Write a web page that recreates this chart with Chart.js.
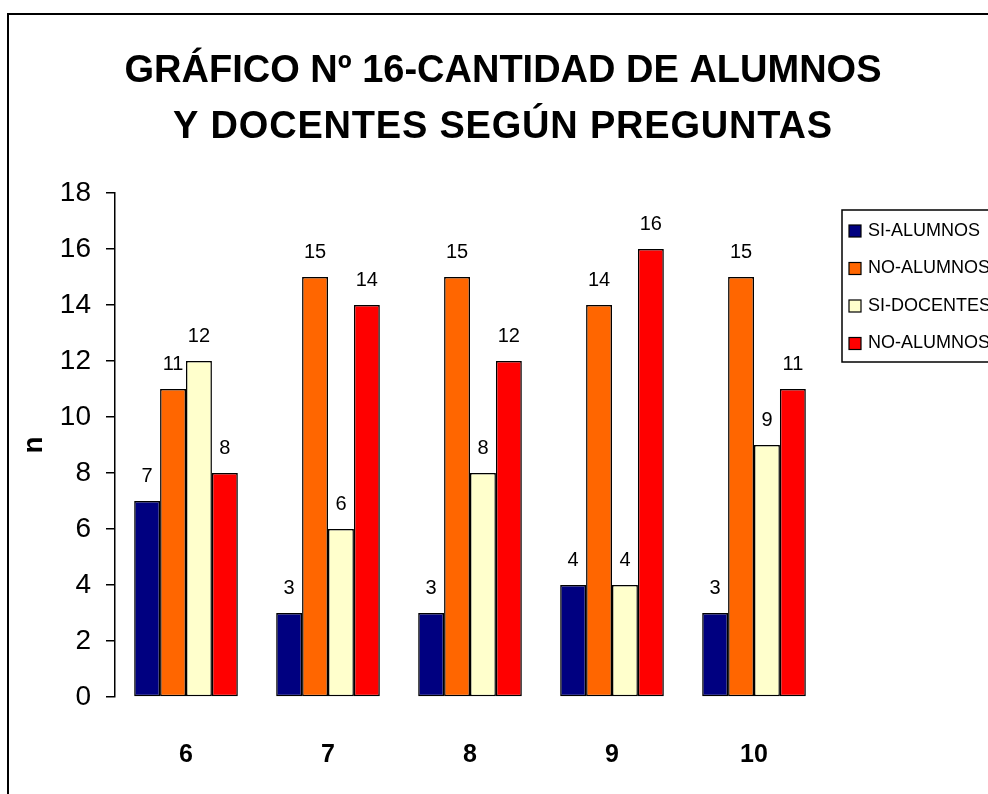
<!DOCTYPE html>
<html>
<head>
<meta charset="utf-8">
<script src="https://cdn.jsdelivr.net/npm/chart.js@4.4.1/dist/chart.umd.min.js"></script>
<style>
  html, body { margin: 0; padding: 0; background: #fff; overflow: hidden; }
  #wrap { position: relative; width: 988px; height: 794px; overflow: hidden; }
  #frame { position: absolute; left: 7px; top: 13px; width: 1200px; height: 1200px;
           border-left: 2px solid #000; border-top: 2px solid #000; }
  canvas { position: absolute; left: 0; top: 0; }
</style>
</head>
<body>
<div id="wrap">
  <div id="frame"></div>
  <canvas id="chart" width="988" height="794"></canvas>
</div>
<script>
const categories = ["6", "7", "8", "9", "10"];
const siAlumnos = [7, 3, 3, 4, 3];
const noAlumnos = [11, 15, 15, 14, 15];
const siDocentes = [12, 6, 8, 4, 9];
const noDocentes = [8, 14, 12, 16, 11];
const seriesNames = ["SI-ALUMNOS", "NO-ALUMNOS", "SI-DOCENTES", "NO-ALUMNOS"];
const seriesColors = ["#000080", "#FF6600", "#FFFFCC", "#FF0000"];
const titleLines = ["GRÁFICO Nº 16-CANTIDAD DE ALUMNOS", "Y DOCENTES SEGÚN PREGUNTAS"];
const yTitle = "n";

const FONT = "'Liberation Sans', Arial, sans-serif";

// title drawn by hand so it stays centred on the whole frame
const frameTitle = {
  id: "frameTitle",
  afterDraw(chart) {
    const ctx = chart.ctx;
    ctx.save();
    ctx.font = "bold 38px " + FONT;
    ctx.fillStyle = "#000";
    ctx.textAlign = "center";
    ctx.textBaseline = "alphabetic";
    ctx.fillText(titleLines[0], 503, 82);
    ctx.letterSpacing = "0.8px";
    ctx.fillText(titleLines[1], 503, 138);
    ctx.restore();
  }
};

const barValues = {
  id: "barValues",
  afterDatasetsDraw(chart) {
    const ctx = chart.ctx;
    ctx.save();
    ctx.font = "20px " + FONT;
    ctx.fillStyle = "#000";
    ctx.textAlign = "center";
    ctx.textBaseline = "middle";
    chart.data.datasets.forEach((ds, i) => {
      chart.getDatasetMeta(i).data.forEach((bar, j) => {
        ctx.fillText(ds.data[j], bar.x, bar.y - 25);
      });
    });
    ctx.restore();
  }
};

const boxLegend = {
  id: "boxLegend",
  afterDraw(chart) {
    const ctx = chart.ctx;
    const x = chart.chartArea.right + 17;
    const y = 210;
    ctx.save();
    ctx.lineWidth = 1.5;
    ctx.strokeStyle = "#000";
    ctx.strokeRect(x, y, 400, 152);
    ctx.font = "18px " + FONT;
    ctx.textBaseline = "middle";
    chart.data.datasets.forEach((ds, i) => {
      const cy = y + 21 + i * 37.5;
      ctx.fillStyle = ds.backgroundColor;
      ctx.fillRect(x + 7, cy - 6, 12, 12);
      ctx.lineWidth = 1.2;
      ctx.strokeRect(x + 7, cy - 6, 12, 12);
      ctx.fillStyle = "#000";
      ctx.fillText(ds.label, x + 26, cy);
    });
    ctx.restore();
  }
};

const series = [siAlumnos, noAlumnos, siDocentes, noDocentes];

new Chart(document.getElementById("chart"), {
  type: "bar",
  data: {
    labels: categories,
    datasets: series.map((vals, i) => ({
      label: seriesNames[i],
      data: vals,
      backgroundColor: seriesColors[i]
    }))
  },
  options: {
    responsive: false,
    animation: false,
    layout: { padding: { left: 10, right: 163, top: 193, bottom: 26 } },
    datasets: {
      bar: {
        categoryPercentage: 0.73,
        barPercentage: 1,
        borderColor: "#000",
        borderWidth: 1.5,
        borderSkipped: false
      }
    },
    plugins: {
      legend: { display: false },
      tooltip: { enabled: false },
      title: { display: false }
    },
    scales: {
      x: {
        grid: { display: false },
        border: { display: false },
        ticks: { color: "#000", font: { family: FONT, size: 25, weight: "bold" }, padding: 35 },
        afterFit(scale) { scale.height = 71; }
      },
      y: {
        min: 0,
        max: 18,
        ticks: { stepSize: 2, color: "#000", font: { family: FONT, size: 28 }, padding: 15 },
        grid: { drawOnChartArea: false, drawTicks: true, tickLength: 9, color: "#000", lineWidth: 1.5 },
        border: { display: true, color: "#000", width: 1.5 },
        title: { display: true, text: yTitle, color: "#000", font: { family: FONT, size: 28, weight: "bold" }, padding: { top: 7 } },
        afterFit(scale) { scale.width = 105; }
      }
    }
  },
  plugins: [frameTitle, barValues, boxLegend]
});
</script>
</body>
</html>
